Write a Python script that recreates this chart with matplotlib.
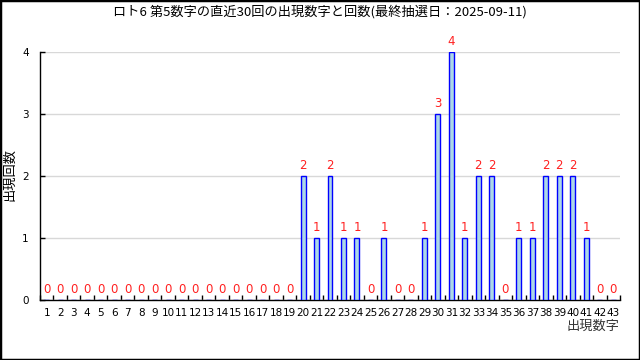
import matplotlib
matplotlib.use("Agg")
import matplotlib.pyplot as plt
from matplotlib.patches import Rectangle
import numpy as np

plt.rcParams['font.family'] = ['DejaVu Sans', 'Noto Sans CJK JP']

# data
numbers = list(range(1, 44))
counts = [0] * 19 + [2, 1, 2, 1, 1, 0, 1, 0, 0, 1, 3, 4, 1, 2, 2, 0, 1, 1, 2, 2, 2, 1, 0, 0]
title = "ロト6 第5数字の直近30回の出現数字と回数(最終抽選日：2025-09-11)"
y_ticks = [0, 1, 2, 3, 4]

fig = plt.figure(figsize=(6.4, 3.6), dpi=100)
ax = fig.add_axes([40 / 640, 1 - 300 / 360, 580 / 640, 248 / 360])

x = np.array(numbers)
ax.bar(x, counts, width=0.37, color='#add8e6', edgecolor='#0000ff', linewidth=1.0, zorder=3)

for xi, c in zip(x, counts):
    ax.annotate(str(c), (xi, c), xytext=(0, 3), textcoords='offset points',
                ha='center', va='bottom', color='#ff2020', fontsize=8.5, zorder=4)

ax.set_xlim(0.5, 43.5)
ax.set_ylim(0, 4)
ax.set_yticks(y_ticks)
ax.set_xticks(x)
ax.set_xticklabels([str(n) for n in numbers])
ax.set_xticks(np.arange(0.5, 44.0, 1.0), minor=True)
ax.tick_params(axis='x', which='major', length=0, pad=6, labelsize=7.5)
ax.tick_params(axis='x', which='minor', direction='in', length=3.5, width=1)
ax.tick_params(axis='y', direction='in', length=3.5, width=1, pad=8, labelsize=7.5)
ax.grid(axis='y', color='#d8d8d8', linewidth=1, zorder=0)

for s in ['top', 'right']:
    ax.spines[s].set_visible(False)
for s in ['left', 'bottom']:
    ax.spines[s].set_linewidth(1.0)

fig.text(0.5, 1 - 12 / 360, title, ha='center', va='center', fontsize=9.5,
         family=['Noto Sans CJK JP', 'DejaVu Sans'])
fig.text(10 / 640, 1 - 174 / 360, "出現回数", rotation=90, ha='center', va='center',
         fontsize=9.5, family=['Noto Sans CJK JP'])
fig.text(593 / 640, 1 - 326 / 360, "出現数字", ha='center', va='center',
         fontsize=9.5, family=['Noto Sans CJK JP'], color='#333333')

fig.patches.append(Rectangle((0, 0), 1, 1, transform=fig.transFigure, fill=False,
                             edgecolor='black', linewidth=2.5, zorder=10))

fig.savefig("out.png", dpi=100)
